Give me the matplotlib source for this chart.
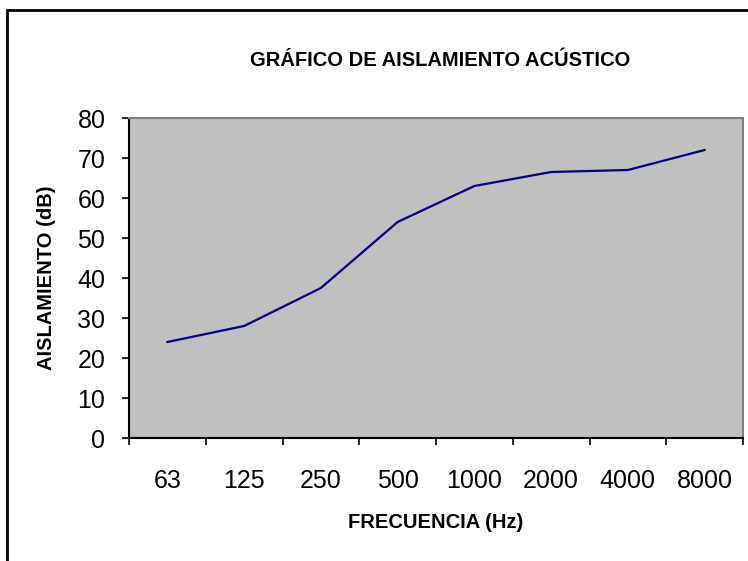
import numpy as np
import matplotlib
matplotlib.use("Agg")
import matplotlib.pyplot as plt
from matplotlib.patches import Rectangle

plt.rcParams['font.family'] = ['Liberation Sans', 'DejaVu Sans']

frecuencias = ["63", "125", "250", "500", "1000", "2000", "4000", "8000"]
aislamiento = [24, 28, 37.5, 54, 63, 66.5, 67, 72]

fig = plt.figure(figsize=(7.48, 5.61), dpi=100)
ax = fig.add_axes([129/748, 1 - 438/561, (743 - 129)/748, (438 - 118)/561])
ax.set_facecolor("#C0C0C0")

x = np.arange(len(frecuencias))
ax.plot(x, aislamiento, color="#000080", lw=1.6)

ax.set_xlim(-0.5, len(frecuencias) - 0.5)
ax.set_ylim(0, 80)
ax.set_yticks(np.arange(0, 81, 10))
ax.set_xticks(np.arange(-0.5, len(frecuencias), 1))
ax.set_xticklabels([])
ax.set_xticks(x, minor=True)
ax.set_xticklabels(frecuencias, minor=True)

ax.tick_params(axis="x", which="major", direction="out", length=5, width=1.2)
ax.tick_params(axis="x", which="minor", length=0, pad=22, labelsize=18)
ax.tick_params(axis="y", direction="out", length=5, width=1.2, pad=12, labelsize=18)

for s in ["left", "bottom"]:
    ax.spines[s].set_color("black")
    ax.spines[s].set_linewidth(1.5)
for s in ["top", "right"]:
    ax.spines[s].set_color("#808080")
    ax.spines[s].set_linewidth(1.5)

fig.text(440/748, 1 - 60/561, "GRÁFICO DE AISLAMIENTO ACÚSTICO",
         ha="center", va="center", fontsize=14.5, fontweight="bold")
fig.text(436/748, 1 - 523/561, "FRECUENCIA (Hz)",
         ha="center", va="center", fontsize=14.5, fontweight="bold")
fig.text(47/748, 1 - 278/561, "AISLAMIENTO (dB)", rotation=90,
         ha="center", va="center", fontsize=14.5, fontweight="bold")

# borde del grafico (cortado abajo y a la derecha)
fig.patches.append(Rectangle((7/748, -0.1), 1.2, (561 - 10)/561 + 0.1,
                             transform=fig.transFigure, fill=False,
                             edgecolor="black", lw=2))

fig.savefig("out.png", dpi=100)
